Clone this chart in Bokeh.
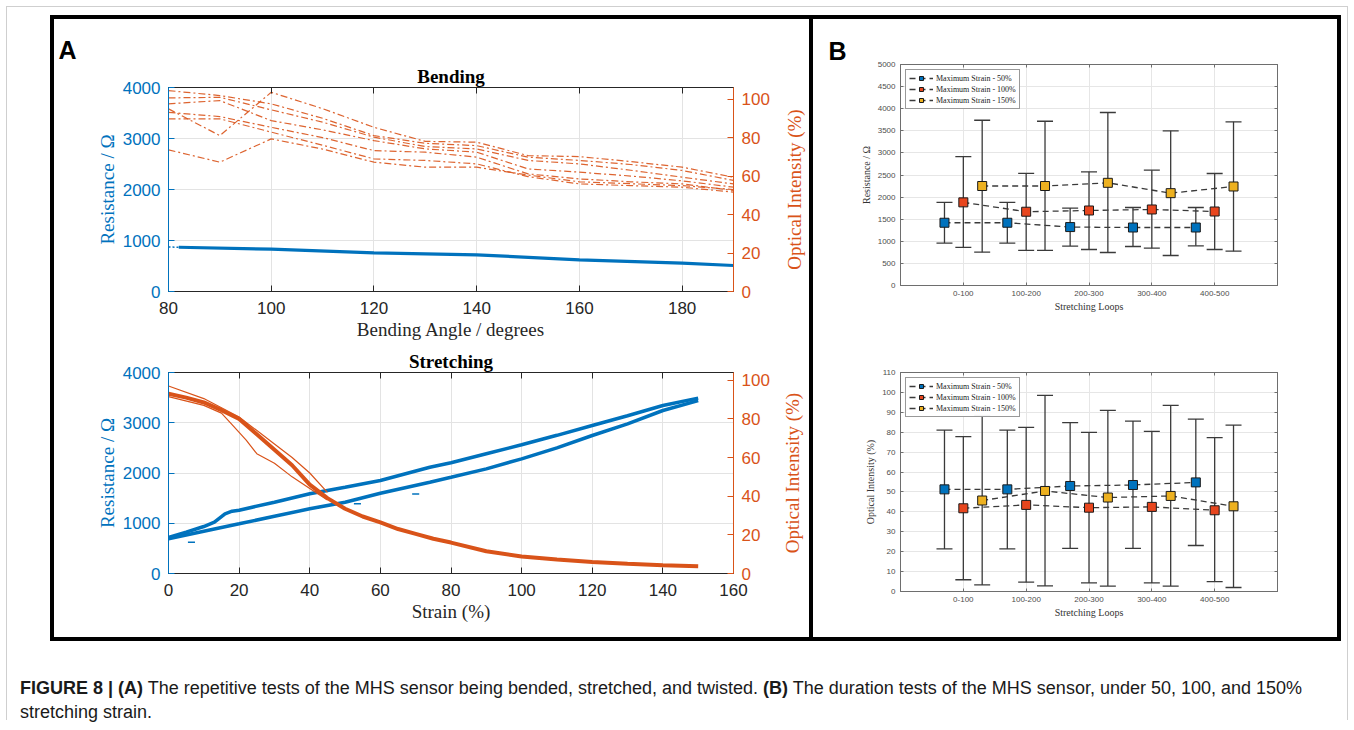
import math
import numpy as np
from bokeh.plotting import figure
from bokeh.models import (Range1d, LinearAxis, FixedTicker, Title, Whisker, TeeHead,
                          ColumnDataSource, Legend, LegendItem, Div)
from bokeh.layouts import column, row
from bokeh.embed import file_html
from bokeh.resources import INLINE

# ---------------- data : panel A, bending ----------------
bend_angle = [80, 90, 100, 110, 120, 130, 140, 150, 160, 170, 180, 190]
bend_opt_1 = [104.4, 101.8, 97.5, 90.0, 81.0, 77.0, 75.8, 69.8, 68.1, 66.0, 62.9, 57.7]
bend_opt_2 = [100.6, 100.9, 94.4, 88.0, 80.2, 75.3, 74.1, 68.1, 66.3, 63.0, 59.4, 55.9]
bend_opt_3 = [97.5, 99.2, 88.8, 84.0, 78.4, 74.1, 72.4, 63.7, 62.0, 60.0, 57.5, 54.2]
bend_opt_4 = [94.9, 81.0, 103.5, 95.0, 85.3, 78.0, 77.6, 70.6, 70.1, 67.5, 64.6, 59.4]
bend_opt_5 = [93.1, 90.9, 85.3, 80.0, 73.2, 72.4, 69.8, 61.1, 58.5, 57.0, 55.9, 52.5]
bend_opt_6 = [89.7, 89.7, 82.8, 76.0, 68.9, 68.1, 66.3, 59.7, 55.9, 55.0, 54.2, 51.6]
bend_opt_7 = [73.6, 67.2, 79.3, 74.0, 67.2, 64.6, 64.6, 60.5, 57.0, 56.0, 55.0, 53.0]
bend_res_angle = [82, 100, 120, 140, 160, 180, 190]
bend_res = [868, 829, 759, 720, 621, 555, 510]
bend_res_pre_angle = [80, 82]
bend_res_pre = [872, 868]

# ---------------- data : panel A, stretching ----------------
strain_load = [0, 5, 10, 13, 16, 18, 20, 30, 40, 50, 60, 74, 80, 90, 100, 110, 120, 130, 140, 150]
res_load = [720, 822, 935, 1021, 1188, 1240, 1260, 1419, 1586, 1718, 1851, 2115, 2203, 2382,
            2561, 2750, 2945, 3140, 3343, 3490]
strain_unload = [150, 140, 130, 120, 110, 100, 90, 80, 74, 60, 50, 40, 30, 20, 10, 0]
res_unload = [3440, 3244, 2979, 2746, 2500, 2282, 2083, 1916, 1817, 1598, 1419, 1287, 1140,
              989, 840, 690]
blip_x0 = [5.5, 52.5, 69.0]
blip_x1 = [7.5, 54.5, 71.0]
blip_res = [623, 1386, 1580]
opt_strain = [0, 5, 10, 15, 20, 25, 30, 35, 40, 45, 50, 55, 60, 65, 70, 75, 80, 90, 100,
              110, 120, 130, 140, 150]
opt_main = [93.0, 91.0, 88.5, 84.5, 80.0, 72.0, 64.0, 56.0, 46.0, 39.0, 33.5, 29.5, 26.5,
            23.0, 20.5, 18.0, 16.0, 11.5, 8.8, 7.2, 6.0, 5.0, 4.3, 3.8]
opt_var_a_strain = [0, 10, 20, 30, 35, 40, 45]
opt_var_a = [97.0, 90.5, 81.0, 67.0, 60.0, 52.0, 42.0]
opt_var_b_strain = [0, 10, 15, 18, 22, 25, 30, 35, 40, 45]
opt_var_b = [91.5, 87.0, 83.0, 77.0, 69.0, 62.0, 57.0, 50.0, 44.0, 38.0]

bend_ticks = [80, 100, 120, 140, 160, 180]
strain_ticks = [0, 20, 40, 60, 80, 100, 120, 140, 160]
res_ticks = [0, 1000, 2000, 3000, 4000]
opt_ticks = [0, 20, 40, 60, 80, 100]

# ---------------- data : panel B ----------------
loops = ["0-100", "100-200", "200-300", "300-400", "400-500"]
series_names = ["Maximum Strain - 50%", "Maximum Strain - 100%", "Maximum Strain - 150%"]

res_50 = [1420, 1420, 1322, 1312, 1312]
res_50_hi = [1881, 1881, 1752, 1765, 1765]
res_50_lo = [959, 959, 891, 882, 898]
res_100 = [1881, 1669, 1697, 1720, 1674]
res_100_hi = [2915, 2538, 2572, 2610, 2534]
res_100_lo = [861, 793, 814, 845, 814]
res_150 = [2251, 2251, 2323, 2089, 2240]
res_150_hi = [3739, 3716, 3914, 3500, 3703]
res_150_lo = [755, 793, 747, 679, 776]

oi_50 = [51.3, 51.3, 53.0, 53.5, 54.8]
oi_50_hi = [81.1, 81.1, 84.8, 85.6, 86.6]
oi_50_lo = [21.4, 21.4, 21.7, 21.7, 23.1]
oi_100 = [41.8, 43.5, 42.1, 42.5, 40.8]
oi_100_hi = [77.8, 82.4, 79.9, 80.4, 77.3]
oi_100_lo = [5.9, 4.7, 4.3, 4.3, 5.0]
oi_150 = [45.7, 50.5, 47.2, 48.0, 42.8]
oi_150_hi = [88.5, 98.5, 91.0, 93.5, 83.6]
oi_150_lo = [3.3, 2.8, 2.7, 2.7, 2.0]

res_b_ticks = list(range(0, 5001, 500))
oi_b_ticks = list(range(0, 111, 10))

# ---------------- styles ----------------
BLUE = "#0072BD"
ORANGE = "#D95319"
DARK = "#262626"
SANS = "Liberation Sans"
SERIF = "Liberation Serif"
B_COLORS = ["#0072BD", "#E8461E", "#EDB120"]
B_OFFSETS = [-0.3, 0.0, 0.3]


def style_axis(ax, color, size="17px", label_size="19px"):
    ax.axis_line_color = color
    ax.major_tick_line_color = color
    ax.minor_tick_line_color = None
    ax.major_tick_in = 6
    ax.major_tick_out = 0
    ax.major_label_text_color = color
    ax.major_label_text_font = SANS
    ax.major_label_text_font_size = size
    ax.axis_label_text_color = color
    ax.axis_label_text_font = SERIF
    ax.axis_label_text_font_size = label_size
    ax.axis_label_text_font_style = "normal"


def mirror_axis(ticks, tick_len, color):
    # tick marks only (MATLAB "box on" style); labels are blank
    return LinearAxis(ticker=FixedTicker(ticks=ticks),
                      major_label_overrides={t: "" for t in ticks},
                      major_label_text_font_size="1px", major_label_standoff=0,
                      major_tick_in=tick_len, major_tick_out=0,
                      axis_line_color=color, major_tick_line_color=color,
                      minor_tick_line_color=None)


def make_a(title, xr, xticks, opt_max, frame_h, top, bottom, right, xlabel, panel_letter=None):
    p = figure(frame_width=565, frame_height=frame_h, min_border_left=114,
               min_border_right=right, min_border_top=top, min_border_bottom=bottom,
               x_range=Range1d(*xr), y_range=Range1d(0, 4000), title=None,
               output_backend="svg", toolbar_location=None)
    p.extra_y_ranges = {"opt": Range1d(0, opt_max)}
    p.outline_line_color = DARK
    xa = p.xaxis[0]
    xa.ticker = FixedTicker(ticks=xticks)
    xa.axis_label = xlabel
    style_axis(xa, DARK)
    xa.major_label_standoff = 10
    xa.axis_label_standoff = 2
    ya = p.yaxis[0]
    ya.ticker = FixedTicker(ticks=res_ticks)
    ya.axis_label = "Resistance / Ω"
    style_axis(ya, BLUE)
    ya.major_label_standoff = 8
    ya.axis_label_standoff = 2
    ra = LinearAxis(y_range_name="opt", ticker=FixedTicker(ticks=opt_ticks))
    style_axis(ra, ORANGE)
    ra.major_label_standoff = 8
    p.add_layout(ra, "right")
    p.add_layout(mirror_axis(xticks, 6, DARK), "above")
    p.add_layout(Title(text=title, align="center", text_font=SERIF, text_font_size="19px",
                       text_font_style="bold", text_color="black", standoff=1), "above")
    if panel_letter:
        p.add_layout(Title(text=panel_letter, align="left", offset=-110, text_font=SANS,
                           text_font_size="25px", text_font_style="bold",
                           text_color="black", standoff=0), "above")
    p.xgrid.grid_line_color = "#e3e3e3"
    p.ygrid.grid_line_color = "#e3e3e3"
    return p


def right_title_strip(frame_h, top, bottom, left, standoff):
    # narrow companion figure that carries the right-hand axis title,
    # reading bottom-to-top as in the MATLAB original
    s = figure(frame_width=2, frame_height=frame_h, min_border_left=left, min_border_right=0,
               min_border_top=top, min_border_bottom=bottom,
               x_axis_location=None, y_axis_location=None, title=None,
               output_backend="svg", toolbar_location=None)
    s.outline_line_color = None
    s.grid.visible = False
    s.add_layout(Title(text="Optical Intensity (%)", align="center", text_font=SERIF,
                       text_font_size="19px", text_font_style="normal",
                       text_color=ORANGE, standoff=standoff), "left")
    return s


# ---- A1 bending ----
A1 = dict(frame_h=204, top=68, bottom=55)
pa1 = make_a("Bending", (80, 190), bend_ticks, 106, A1["frame_h"], A1["top"], A1["bottom"],
             44, "Bending Angle / degrees", "A")
for ys in [bend_opt_1, bend_opt_2, bend_opt_3, bend_opt_4, bend_opt_5, bend_opt_6, bend_opt_7]:
    pa1.line(bend_angle, ys, y_range_name="opt", line_color=ORANGE, line_width=1.2,
             line_dash="7 3 2 3", line_alpha=0.9)
pa1.line(bend_res_pre_angle, bend_res_pre, line_color=BLUE, line_width=1.5, line_dash="2 2")
pa1.line(bend_res_angle, bend_res, line_color=BLUE, line_width=3.2)
sa1 = right_title_strip(A1["frame_h"], A1["top"], A1["bottom"], 30, 5)

# ---- A2 stretching ----
A2 = dict(frame_h=201, top=26, bottom=64)
pa2 = make_a("Stretching", (0, 160), strain_ticks, 104, A2["frame_h"], A2["top"], A2["bottom"],
             40, "Strain (%)")
pa2.xaxis[0].axis_label_standoff = 5
pa2.line(strain_load, res_load, line_color=BLUE, line_width=3.5)
pa2.line(strain_unload, res_unload, line_color=BLUE, line_width=3.5)
pa2.segment(x0=blip_x0, y0=blip_res, x1=blip_x1, y1=blip_res, line_color=BLUE, line_width=1.5)
pa2.line(opt_var_a_strain, opt_var_a, y_range_name="opt", line_color=ORANGE, line_width=1.2)
pa2.line(opt_var_b_strain, opt_var_b, y_range_name="opt", line_color=ORANGE, line_width=1.2)
pa2.line(opt_strain, opt_main, y_range_name="opt", line_color=ORANGE, line_width=4)
sa2 = right_title_strip(A2["frame_h"], A2["top"], A2["bottom"], 34, 9)


# ---------------- panel B ----------------
def make_b(y_end, yticks, frame_h, top, bottom, ylabel, panel_letter=None):
    p = figure(frame_width=377, frame_height=frame_h, min_border_left=87, min_border_right=60,
               min_border_top=top, min_border_bottom=bottom, title=None,
               x_range=Range1d(0, len(loops) + 1), y_range=Range1d(0, y_end),
               output_backend="svg", toolbar_location=None)
    p.outline_line_color = "#6e6e6e"
    pos = list(range(1, len(loops) + 1))
    xa = p.xaxis[0]
    xa.ticker = FixedTicker(ticks=pos)
    xa.major_label_overrides = {i: lab for i, lab in zip(pos, loops)}
    xa.axis_label = "Stretching Loops"
    ya = p.yaxis[0]
    ya.ticker = FixedTicker(ticks=yticks)
    ya.axis_label = ylabel
    for ax in (xa, ya):
        style_axis(ax, "#6e6e6e", size="8px", label_size="10px")
        ax.major_label_text_color = "#4d4d4d"
        ax.axis_label_text_color = "#333333"
        ax.major_tick_in = 3
    xa.major_label_standoff = 5
    xa.axis_label_standoff = 2
    ya.major_label_standoff = 5
    ya.axis_label_standoff = 3
    p.add_layout(mirror_axis(yticks, 3, "#6e6e6e"), "right")
    p.add_layout(mirror_axis(pos, 3, "#6e6e6e"), "above")
    if panel_letter:
        p.add_layout(Title(text=panel_letter, align="left", offset=-72, text_font=SANS,
                           text_font_size="25px", text_font_style="bold",
                           text_color="black", standoff=0), "above")
    p.xgrid.grid_line_color = "#e6e6e6"
    p.ygrid.grid_line_color = "#e6e6e6"
    return p, pos


def add_series(p, pos, groups):
    items = []
    for (vals, hi, lo), col, off, name in zip(groups, B_COLORS, B_OFFSETS, series_names):
        xs = [x + off for x in pos]
        src = ColumnDataSource(dict(x=xs, y=vals, hi=hi, lo=lo))
        w = Whisker(source=src, base="x", upper="hi", lower="lo", dimension="height",
                    line_color="#3a3a3a", line_width=1.3, level="underlay",
                    upper_head=TeeHead(size=16, line_color="#3a3a3a", line_width=1.3),
                    lower_head=TeeHead(size=16, line_color="#3a3a3a", line_width=1.3))
        p.add_layout(w)
        lr = p.line("x", "y", source=src, line_color="#3a3a3a", line_width=1.3,
                    line_dash="6 4")
        sr = p.scatter("x", "y", source=src, marker="square", size=9, fill_color=col,
                       line_color="#1a1a1a", line_width=1)
        items.append(LegendItem(label=name, renderers=[lr, sr]))
    leg = Legend(items=items, location="top_left", label_text_font=SERIF,
                 label_text_font_size="8px", label_text_color="#222222",
                 glyph_width=24, glyph_height=10, label_height=10, spacing=1,
                 padding=3, margin=5, label_standoff=3,
                 border_line_color="#333333", border_line_width=1)
    p.add_layout(leg)


pb1, pos1 = make_b(5000, res_b_ticks, 221, 45, 45, "Resistance / Ω", "B")
add_series(pb1, pos1, [(res_50, res_50_hi, res_50_lo),
                       (res_100, res_100_hi, res_100_lo),
                       (res_150, res_150_hi, res_150_lo)])

pb2, pos2 = make_b(110, oi_b_ticks, 219, 42, 46, "Optical Intensity (%)")
add_series(pb2, pos2, [(oi_50, oi_50_hi, oi_50_lo),
                       (oi_100, oi_100_hi, oi_100_lo),
                       (oi_150, oi_150_hi, oi_150_lo)])

# ---------------- layout ----------------
panel_a = column(row(pa1, sa1, spacing=0), row(pa2, sa2, spacing=0), spacing=0,
                 margin=(8, 0, 0, 43), styles={"border": "4px solid black"})
panel_b = column(pb1, pb2, spacing=0, margin=(8, 6, 0, 0),
                 styles={"border": "4px solid black", "border-left": "none"})

caption = Div(
    text=('<b>FIGURE 8 | (A)</b> The repetitive tests of the MHS sensor being bended, '
          'stretched, and twisted. <b>(B)</b> The duration tests of the MHS sensor, '
          'under 50, 100, and 150%<br>stretching strain.'),
    width=1320, height=44, margin=(35, 0, 0, 13),
    styles={"font-family": "Liberation Sans, Arial, sans-serif", "font-size": "18px",
            "line-height": "24px", "color": "#1a1a1a"})

root = column(row(panel_a, panel_b, spacing=0), caption, spacing=0, margin=(6, 0, 0, 6),
              styles={"border-top": "1px solid #cfcfcf", "border-left": "1px solid #cfcfcf",
                      "border-right": "1px solid #cfcfcf"})

open("out.html", "w").write(file_html(root, INLINE))
